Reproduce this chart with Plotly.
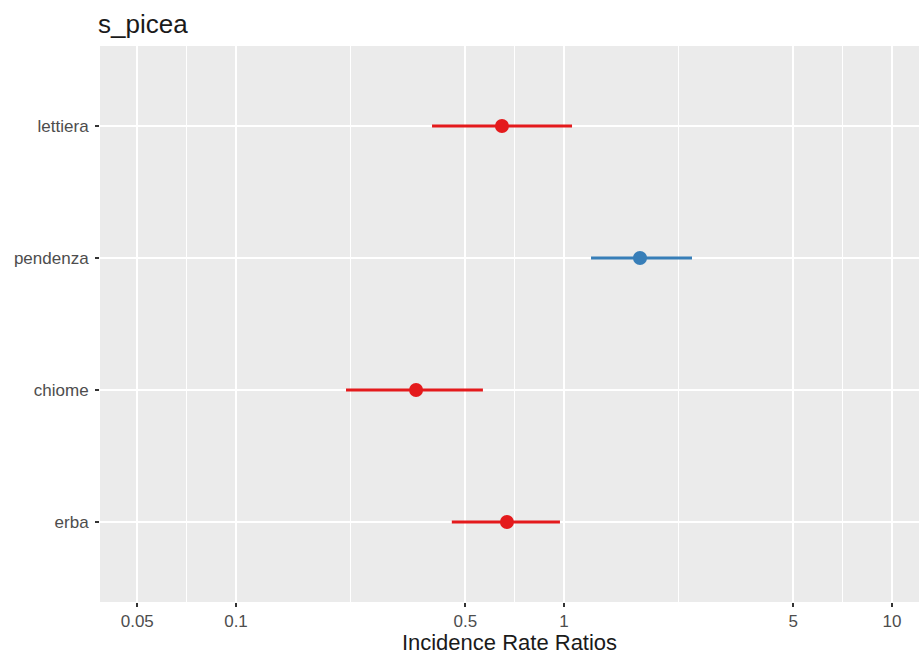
import plotly.graph_objects as go

# Incidence rate ratios with 95% confidence intervals
terms = ["lettiera", "pendenza", "chiome", "erba"]
irr = [0.647, 1.705, 0.354, 0.670]
ci_low = [0.396, 1.209, 0.2165, 0.455]
ci_high = [1.058, 2.456, 0.566, 0.972]

tick_vals = [0.05, 0.1, 0.5, 1, 5, 10]
tick_text = ["0.05", "0.1", "0.5", "1", "5", "10"]
minor_vals = [0.0707, 0.2236, 0.7071, 2.236, 7.071]

RED = "#e41a1c"
BLUE = "#377eb8"

fig = go.Figure()

for name, v, lo, hi in zip(terms, irr, ci_low, ci_high):
    col = BLUE if v > 1 else RED
    fig.add_trace(go.Scatter(
        x=[v], y=[name], mode="markers",
        marker=dict(color=col, size=14, line=dict(width=0)),
        error_x=dict(type="data", symmetric=False,
                     array=[hi - v], arrayminus=[v - lo],
                     color=col, thickness=3, width=0),
        showlegend=False, hoverinfo="x+y",
    ))

grid = "#ffffff"
fig.update_layout(
    width=919, height=655,
    margin=dict(l=100, r=0, t=46, b=53),
    paper_bgcolor="white",
    plot_bgcolor="#ebebeb",
    font=dict(family="Liberation Sans, Arial, sans-serif", color="#4d4d4d", size=17),
    title=dict(text="s_picea", x=98 / 919, xref="container", xanchor="left",
               y=1 - 24 / 655, yref="container", yanchor="middle",
               font=dict(size=26, color="#1a1a1a")),
    xaxis=dict(
        type="log",
        range=[-1.4146, 1.0823],
        tickvals=tick_vals, ticktext=tick_text,
        showgrid=True, gridcolor=grid, gridwidth=2,
        zeroline=False, showline=False,
        ticks="outside", ticklen=4, tickwidth=1.5, tickcolor="#333333",
        tickfont=dict(size=17, color="#4d4d4d"),
        minor=dict(tickvals=minor_vals, showgrid=True, gridcolor=grid,
                   gridwidth=1, ticks=""),
        title=dict(text="Incidence Rate Ratios", standoff=2,
                   font=dict(size=22, color="#1a1a1a")),
    ),
    yaxis=dict(
        type="category",
        categoryorder="array",
        categoryarray=["erba", "chiome", "pendenza", "lettiera"],
        range=[-0.606, 3.606],
        showgrid=True, gridcolor=grid, gridwidth=2,
        zeroline=False, showline=False,
        ticks="outside", ticklen=4, tickwidth=1.5, tickcolor="#333333",
        ticklabelstandoff=3,
        tickfont=dict(size=17, color="#4d4d4d"),
    ),
)

fig.write_html("out.html")
